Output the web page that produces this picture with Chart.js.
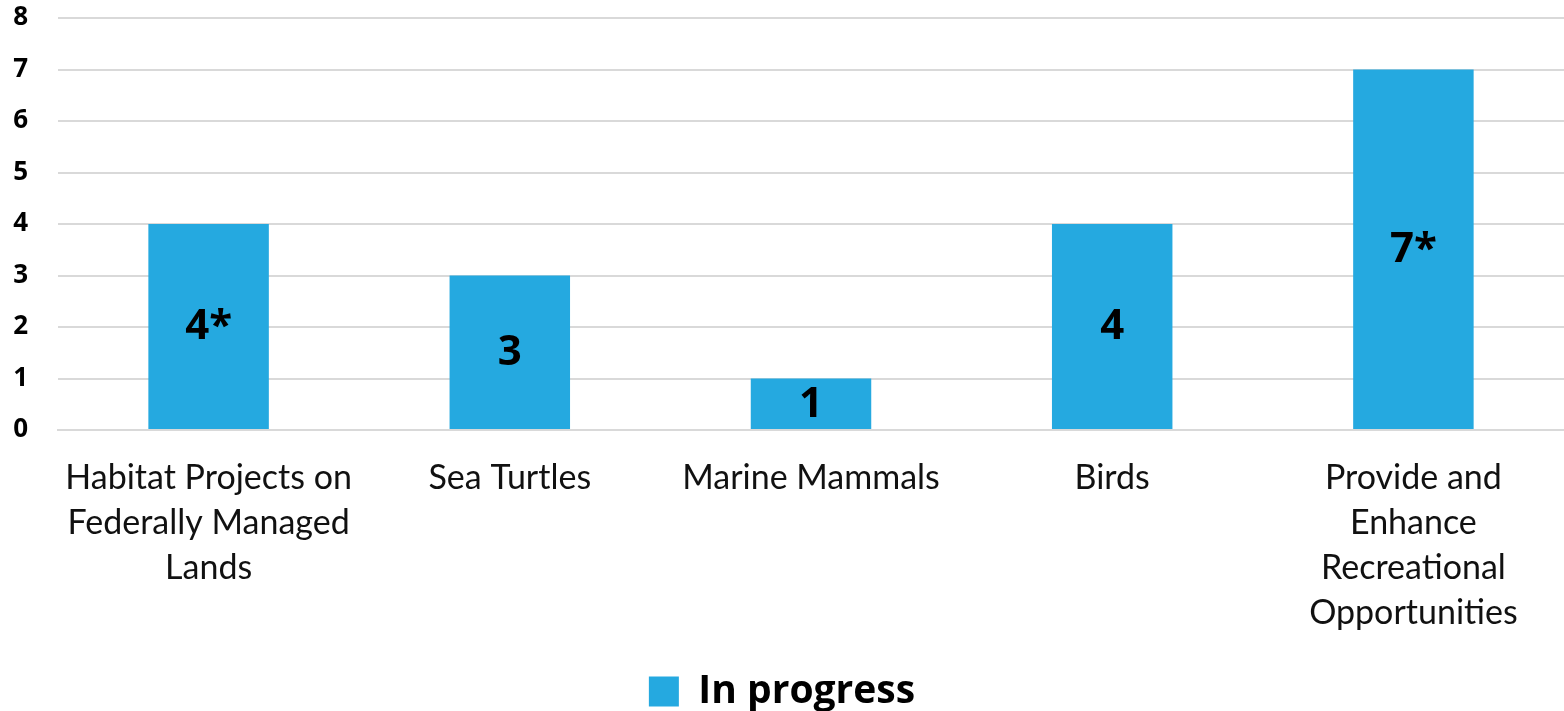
<!DOCTYPE html>
<html>
<head>
<meta charset="utf-8">
<script src="https://cdn.jsdelivr.net/npm/chart.js@4"></script>
<style>
  html, body { margin: 0; padding: 0; background: #fff; }
  #wrap { width: 1564px; height: 711px; }
</style>
</head>
<body>
<div id="wrap"><canvas id="chart"></canvas></div>
<script>
const categories = [
  ['Habitat Projects on', 'Federally Managed', 'Lands'],
  ['Sea Turtles'],
  ['Marine Mammals'],
  ['Birds'],
  ['Provide and', 'Enhance', 'Recreational', 'Opportunities'],
];
const inProgress = [4, 3, 1, 4, 7];
const barLabels = ['4*', '3', '1', '4', '7*'];
const yTicks = [0, 1, 2, 3, 4, 5, 6, 7, 8];

const FONT = 'Lato, "Open Sans", sans-serif';
const BOLD = '"Open Sans", Lato, sans-serif';

// draw the value text in the middle of each bar
const barText = {
  id: 'barText',
  afterDatasetsDraw(chart) {
    const ctx = chart.ctx;
    const meta = chart.getDatasetMeta(0);
    ctx.save();
    ctx.font = 'bold 42px ' + BOLD;
    ctx.fillStyle = '#000';
    ctx.textAlign = 'center';
    ctx.textBaseline = 'middle';
    meta.data.forEach((bar, i) => {
      const p = bar.getProps(['x', 'y', 'base'], true);
      ctx.fillText(barLabels[i], p.x, (p.y + p.base) / 2 + 1);
    });
    ctx.restore();
  }
};

// push the legend a bit lower (shrink its box so it starts further down)
const legendLower = {
  id: 'legendLower',
  beforeInit(chart) {
    if (!chart.legend) return;
    const fit = chart.legend.fit;
    chart.legend.fit = function () {
      fit.call(this);
      this.height -= 10;
    };
  }
};

new Chart(document.getElementById('chart'), {
  type: 'bar',
  data: {
    labels: categories,
    datasets: [{
      label: 'In progress',
      data: inProgress,
      backgroundColor: '#25A9E0',
      categoryPercentage: 0.8,
      barPercentage: 0.5,
    }]
  },
  options: {
    responsive: true,
    maintainAspectRatio: false,
    animation: false,
    layout: { padding: { top: 18, right: 0, left: 0, bottom: 0 } },
    scales: {
      x: {
        afterFit(axis) {
          axis.height = 242;
          axis.paddingTop = 0; axis.paddingBottom = 0; axis.paddingLeft = 0; axis.paddingRight = 0;
        },
        grid: { display: false },
        border: { color: '#d9d9d9', width: 2 },
        ticks: {
          color: '#111',
          font: { family: FONT, size: 34, lineHeight: 1.33 },
          maxRotation: 0,
          autoSkip: false,
          padding: 17,
        }
      },
      y: {
        min: 0,
        max: 8,
        afterBuildTicks(axis) { axis.ticks = yTicks.map(v => ({ value: v })); },
        afterFit(axis) { axis.width = 58; axis.paddingTop = 0; axis.paddingBottom = 0; },
        grid: { color: '#d9d9d9', lineWidth: 2, drawTicks: false },
        border: { display: false },
        ticks: {
          color: '#000',
          font: { family: BOLD, size: 26, weight: 'bold' },
          padding: 30,
        }
      }
    },
    plugins: {
      legend: {
        position: 'bottom',
        labels: {
          color: '#000',
          font: { family: BOLD, size: 39, weight: 'bold' },
          boxWidth: 30,
          boxHeight: 30,
          padding: 0,
        }
      },
      tooltip: { enabled: false }
    }
  },
  plugins: [barText, legendLower]
});
</script>
</body>
</html>
